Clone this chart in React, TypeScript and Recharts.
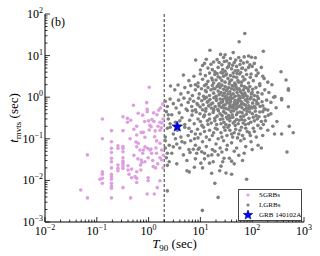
import React from 'react';
import { ScatterChart, Scatter, XAxis, YAxis, ReferenceLine } from 'recharts';

// [T90 (s), t_mvts (s)]
const sgrbs: number[][] = [
  [0.049, 0.0059], [0.066, 0.041], [0.066, 0.0038],
  [0.128, 0.3], [0.128, 0.1], [0.128, 0.016], [0.128, 0.014], [0.128, 0.0112], [0.128, 0.0085], [0.115, 0.0107],
  [0.192, 0.157], [0.192, 0.085], [0.192, 0.059], [0.192, 0.047], [0.192, 0.034], [0.192, 0.028], [0.192, 0.02],
  [0.192, 0.014], [0.192, 0.0123], [0.192, 0.0107], [0.192, 0.0085], [0.192, 0.0072], [0.192, 0.0065], [0.192, 0.0038],
  [0.256, 0.068], [0.256, 0.059], [0.256, 0.0234], [0.256, 0.0195], [0.256, 0.017],
  [0.32, 0.34], [0.32, 0.157], [0.32, 0.065], [0.32, 0.059], [0.32, 0.049], [0.32, 0.035], [0.32, 0.029],
  [0.32, 0.026], [0.32, 0.0225], [0.32, 0.0195], [0.32, 0.0067],
  [0.39, 0.31], [0.39, 0.25], [0.45, 0.28], [0.51, 0.64], [0.63, 0.41], [0.77, 0.37], [0.92, 0.74], [0.94, 0.51],
  [0.94, 0.45], [1.03, 1.73], [1.88, 0.69], [1.57, 0.49], [0.84, 0.26], [1.0, 0.27], [1.16, 0.29], [1.27, 0.26],
  [1.66, 0.25], [1.81, 0.24], [1.52, 0.2], [0.52, 0.17], [0.59, 0.2], [0.72, 0.143], [0.79, 0.143], [1.06, 0.21],
  [1.12, 0.195], [1.03, 0.163], [1.34, 0.155], [1.66, 0.16], [1.76, 0.185], [0.59, 0.123], [0.44, 0.1],
  [0.57, 0.084], [0.63, 0.078], [0.85, 0.109], [1.31, 0.112], [1.43, 0.089], [1.66, 0.078], [0.79, 0.054],
  [0.96, 0.059], [1.11, 0.057], [1.39, 0.06], [1.79, 0.054],
  [0.4, 0.0225], [0.4, 0.0178], [0.47, 0.0187], [0.42, 0.014], [0.47, 0.0116], [0.55, 0.0123], [0.59, 0.0162],
  [0.59, 0.0112], [0.59, 0.0089], [0.71, 0.0178], [0.7, 0.0234], [0.74, 0.027], [0.98, 0.0116], [0.98, 0.0098],
  [0.94, 0.0047], [1.29, 0.0047], [0.45, 0.0038], [1.47, 0.0067], [1.23, 0.0214], [1.37, 0.02], [1.66, 0.0098],
  [0.59, 0.064], [0.68, 0.054], [0.77, 0.045], [0.85, 0.064], [1.06, 0.054], [1.14, 0.045], [0.98, 0.035],
  [1.42, 0.045], [1.66, 0.035], [1.79, 0.031], [1.95, 0.04], [0.72, 0.031], [0.85, 0.028], [0.52, 0.04],
  [0.62, 0.033], [1.2, 0.03], [1.5, 0.025], [1.9, 0.02], [1.7, 0.55], [1.45, 0.38], [1.9, 0.3], [1.25, 0.42],
];

const lgrbs: number[][] = [
  // t > 4 s
  [72, 34], [56, 21.6], [15.3, 13.4], [164, 12.7], [24.5, 10.7], [43, 11.8], [85, 9.8], [70, 9.3], [97, 9.1],
  [115, 8.9], [30, 10.5], [8.1, 7.8], [32, 7.4], [12, 6.5], [18, 7], [21, 8], [26, 6], [38, 8.5], [45, 6.8],
  [50, 5.5], [60, 7.5], [65, 5], [90, 6], [120, 4.5], [150, 5.2], [360, 4.1], [28, 9], [35, 5.5], [40, 4.8],
  [55, 9], [14, 5], [17, 4.6], [22, 5.2], [30, 4.2], [75, 4.5], [100, 5.5], [10, 4.5], [13, 8.2], [47, 4.3], [80, 7],
  [11, 5.8], [16, 6.2], [19, 4.1], [23, 6.8], [27, 4.6], [29, 7.2], [33, 5.1], [36, 6.4], [42, 5.9], [48, 7.8],
  [53, 4.4], [58, 6.1], [63, 4.9], [68, 6.6], [85, 5.2], [110, 6.5],
  // 2 - 4 s
  [4.7, 3.4], [6, 2.5], [7.5, 3.2], [9, 2.2], [10, 3.6], [11, 2.7], [12.5, 3.3], [14, 2.4], [15, 3.8], [16.5, 2.9],
  [18, 2.2], [19, 3.5], [20, 2.6], [22, 3.1], [23, 2.1], [25, 3.9], [26, 2.5], [28, 3.2], [30, 2.3], [32, 3.6],
  [34, 2.8], [36, 2.1], [38, 3.3], [40, 2.6], [43, 3.8], [46, 2.2], [50, 3], [53, 2.5], [57, 3.6], [62, 2.3],
  [66, 3.1], [72, 2.7], [78, 3.5], [85, 2.2], [92, 3], [105, 2.5], [120, 3.3], [140, 2.1], [170, 2.8], [200, 2.3],
  [240, 2.0], [450, 2.6], [8, 2.0], [13, 2.05], [27, 3.8], [60, 3.9], [48, 2.0],
  [130, 3.8], [24, 2.9], [31, 3.4], [37, 2.4], [44, 3.1], [51, 3.7], [55, 2.3], [69, 2.6], [95, 3.6], [160, 3.2],
  [21, 3.7], [17, 2.6],
  // 1 - 2 s
  [2.65, 1.86], [3.7, 1.96], [3.2, 1.5], [4.2, 1.2], [5, 1.7], [5.8, 1.3], [6.5, 1.9], [7, 1.1], [8, 1.5], [9, 1.8],
  [9.5, 1.2], [10.5, 1.6], [11.5, 1.05], [12, 1.9], [13, 1.35], [14, 1.7], [15, 1.1], [16, 1.5], [17, 1.9],
  [18, 1.25], [19, 1.6], [20, 1.05], [21, 1.8], [22, 1.4], [23, 1.15], [24, 1.7], [25, 1.3], [26, 1.95], [27, 1.1],
  [28, 1.55], [29, 1.25], [30, 1.8], [31, 1.05], [32, 1.45], [34, 1.2], [35, 1.7], [37, 1.35], [38, 1.0], [40, 1.6],
  [41, 1.9], [43, 1.2], [45, 1.5], [47, 1.05], [49, 1.75], [51, 1.3], [54, 1.1], [56, 1.6], [59, 1.4], [62, 1.9],
  [65, 1.15], [68, 1.5], [72, 1.25], [76, 1.7], [80, 1.05], [85, 1.4], [90, 1.8], [96, 1.2], [102, 1.55],
  [110, 1.1], [118, 1.7], [128, 1.3], [140, 1.9], [155, 1.2], [175, 1.5], [210, 1.3], [260, 1.0], [500, 1.6],
  [500, 1.47], [33, 1.6], [39, 1.15], [44, 1.85], [52, 1.55], [58, 1.02], [61, 1.3], [70, 1.8], [74, 1.1],
  [83, 1.6], [100, 1.3], [125, 1.05], [22, 1.95], [18, 1.6], [12.5, 1.45],
  // 0.5 - 1 s
  [2.1, 0.8], [2.3, 0.6], [2.6, 0.9], [3, 0.7], [3.4, 0.55], [3.8, 0.85], [4.3, 0.65], [4.8, 0.95], [5.3, 0.52],
  [5.8, 0.75], [6.3, 0.9], [6.8, 0.6], [7.4, 0.8], [8, 0.5], [8.6, 0.7], [9.2, 0.95], [9.9, 0.58], [10.6, 0.82],
  [11.3, 0.66], [12, 0.92], [12.8, 0.53], [13.6, 0.76], [14.4, 0.62], [15.3, 0.88], [16.2, 0.55], [17.2, 0.72],
  [18.2, 0.97], [19.3, 0.6], [20.4, 0.83], [21.6, 0.51], [22.8, 0.7], [24, 0.9], [25.4, 0.57], [26.8, 0.78],
  [28.2, 0.64], [29.8, 0.94], [31.4, 0.53], [33, 0.74], [34.8, 0.86], [36.6, 0.6], [38.5, 0.79], [40.5, 0.55],
  [42.6, 0.96], [44.8, 0.68], [47, 0.84], [49.4, 0.52], [52, 0.73], [54.6, 0.9], [57.4, 0.61], [60.4, 0.8],
  [63.5, 0.56], [66.8, 0.98], [70.2, 0.67], [74, 0.85], [78, 0.54], [82, 0.76], [86, 0.62], [91, 0.91], [96, 0.58],
  [102, 0.72], [108, 0.87], [115, 0.55], [123, 0.69], [132, 0.93], [142, 0.6], [155, 0.78], [170, 0.52],
  [190, 0.85], [290, 0.56], [370, 0.86], [500, 0.59], [370, 0.93], [275, 1.03],
  [9, 0.65], [11, 0.5], [13, 0.99], [16, 0.68], [18, 0.52], [20, 0.95], [23, 0.62], [27, 0.88], [30, 0.66],
  [35, 0.51], [39, 0.92], [45, 0.57], [50, 0.65], [58, 0.94], [65, 0.71], [75, 0.64], [88, 0.53], [110, 0.6],
  [14, 0.8], [25, 0.74], [33, 0.97], [42, 0.63], [55, 0.82], [70, 0.5], [95, 0.99], [120, 0.81],
  [28, 0.55], [32, 0.82], [37, 0.7], [41, 0.58], [46, 0.75], [53, 0.58], [62, 0.68], [80, 0.9], [100, 0.55],
  [130, 0.7], [160, 0.62], [230, 0.75],
  // 0.2 - 0.5 s
  [2.2, 0.45], [2.4, 0.3], [2.8, 0.38], [3.3, 0.25], [3.9, 0.42], [4.4, 0.32], [5, 0.22], [5.6, 0.48], [6.2, 0.28],
  [6.9, 0.37], [7.6, 0.23], [8.3, 0.44], [9, 0.3], [9.8, 0.4], [10.7, 0.21], [11.6, 0.34], [12.6, 0.46],
  [13.7, 0.27], [14.9, 0.39], [16.2, 0.24], [17.6, 0.43], [19, 0.31], [20.6, 0.22], [22.3, 0.47], [24.2, 0.29],
  [26.2, 0.36], [28.4, 0.25], [30.8, 0.41], [33.3, 0.3], [36, 0.21], [39, 0.45], [42.3, 0.33], [45.8, 0.26],
  [49.6, 0.38], [53.7, 0.23], [58.2, 0.44], [63, 0.29], [68.2, 0.35], [73.8, 0.22], [80, 0.46], [86.6, 0.31],
  [93.8, 0.25], [101, 0.4], [110, 0.27], [119, 0.36], [129, 0.21], [140, 0.44], [164, 0.22], [177, 0.34],
  [160, 0.45], [177, 0.51], [205, 0.37], [200, 0.49], [250, 0.2], [300, 0.26], [520, 0.2],
  [4, 0.27], [7, 0.47], [10, 0.26], [12, 0.37], [15, 0.3], [18, 0.48], [21, 0.35], [25, 0.23], [28, 0.45],
  [32, 0.33], [37, 0.27], [41, 0.38], [47, 0.21], [52, 0.42], [60, 0.34], [67, 0.24], [77, 0.39], [90, 0.44],
  [105, 0.33], [125, 0.3], [150, 0.26], [24, 0.4], [35, 0.36], [44, 0.47], [56, 0.28], [2.6, 0.23], [2.4, 0.38],
  [27, 0.3], [31, 0.22], [38, 0.32], [43, 0.24], [50, 0.29], [64, 0.42], [72, 0.28], [85, 0.23], [115, 0.46],
  [135, 0.34], [180, 0.27], [230, 0.4], [19, 0.27], [14, 0.22],
  // 0.1 - 0.2 s
  [2.3, 0.18], [2.6, 0.19], [3, 0.13], [3.6, 0.16], [4.2, 0.11], [5, 0.19], [5.8, 0.12], [6.7, 0.15], [7.7, 0.1],
  [8.8, 0.17], [10, 0.13], [11.5, 0.19], [13, 0.11], [15, 0.16], [17, 0.12], [19.5, 0.18], [22, 0.1], [25, 0.14],
  [28.5, 0.19], [32.5, 0.12], [37, 0.16], [42, 0.11], [48, 0.17], [55, 0.13], [62, 0.19], [70, 0.1], [80, 0.15],
  [92, 0.12], [105, 0.18], [120, 0.11], [146, 0.18], [270, 0.13], [370, 0.13], [620, 0.14], [2.1, 0.11],
  [9, 0.105], [18, 0.14], [30, 0.16], [45, 0.14], [65, 0.12], [3.3, 0.1],
  [12, 0.15], [21, 0.17], [26, 0.11], [34, 0.19], [40, 0.13], [52, 0.105], [58, 0.16], [75, 0.18], [88, 0.14],
  [110, 0.15], [160, 0.12], [200, 0.16], [8, 0.13], [6, 0.18],
  // 0.04 - 0.1 s
  [2.1, 0.09], [2.5, 0.07], [3.5, 0.075], [4.4, 0.085], [3, 0.064], [4, 0.06], [5, 0.08], [6, 0.055], [6.5, 0.09],
  [8, 0.07], [9.5, 0.06], [11, 0.085], [13, 0.065], [15, 0.095], [17, 0.055], [20, 0.075], [24, 0.06], [28, 0.09],
  [33, 0.07], [40, 0.08], [50, 0.06], [60, 0.09], [75, 0.065], [95, 0.085], [130, 0.07], [470, 0.048],
  [7.3, 0.056], [9.1, 0.056], [10.6, 0.049], [6.3, 0.047], [8.5, 0.045], [2.8, 0.045], [4.7, 0.041], [2.1, 0.06],
  [12, 0.045], [19, 0.05], [26, 0.048], [32, 0.055], [45, 0.05], [55, 0.04], [70, 0.045], [100, 0.055], [150, 0.06],
  // below 0.04 s
  [14.1, 0.039], [16.6, 0.041], [22, 0.041], [28.5, 0.034], [36.3, 0.034], [40, 0.029], [2.3, 0.045],
  [2.3, 0.023], [2.3, 0.0056], [7.65, 0.0207], [5.5, 0.017], [6.1, 0.016], [16.5, 0.0148], [19, 0.0085],
  [22, 0.0039], [10.9, 0.0019], [23.6, 0.017], [31.2, 0.015], [40, 0.014], [15, 0.026], [17.7, 0.028],
  [10.2, 0.026], [78, 0.0107], [2.2, 0.035], [2.5, 0.028], [12, 0.033], [25, 0.022],
  [5.5, 0.03], [8, 0.033], [27, 0.028], [45, 0.025], [65, 0.03], [3.5, 0.025], [11, 0.02],
];

const grb140102a: number[][] = [[3.58, 0.195]];

const xMajor = [0.01, 0.1, 1, 10, 100, 1000];
const yMajor = [0.001, 0.01, 0.1, 1, 10, 100];
const withMinor = (majors: number[]) => {
  const out: number[] = [];
  majors.forEach((m, i) => {
    out.push(m);
    if (i < majors.length - 1) for (let k = 2; k < 10; k++) out.push(m * k);
  });
  return out;
};
const xTicks = withMinor(xMajor);
const yTicks = withMinor(yMajor);

const toPts = (arr: number[][]) => arr.map(([x, y]) => ({ x, y }));

const FONT = '"Liberation Serif", "DejaVu Serif", serif';

const expOf = (v: number) => {
  const e = Math.round(Math.log10(v));
  return { e, major: Math.abs(Math.log10(v) - e) < 1e-6 };
};
const supText = (e: number) => (e < 0 ? '\u2212' + Math.abs(e) : String(e));

const XTick = (props: any) => {
  const { x, y, payload, side } = props;
  const { e, major } = expOf(payload.value);
  const len = major ? 5 : 2.5;
  const dir = side === 'bottom' ? -1 : 1;
  return (
    <g>
      <line x1={x} y1={y} x2={x} y2={y + dir * len} stroke="#000" strokeWidth={0.8} />
      {major && side === 'bottom' && (
        <text x={x} y={y + 13} textAnchor="middle" fontFamily={FONT} fontSize={12} fill="#000">
          10<tspan dy={-5} fontSize={8}>{supText(e)}</tspan>
        </text>
      )}
    </g>
  );
};

const YTick = (props: any) => {
  const { x, y, payload, side } = props;
  const { e, major } = expOf(payload.value);
  const len = major ? 5 : 2.5;
  const dir = side === 'left' ? 1 : -1;
  return (
    <g>
      <line x1={x} y1={y} x2={x + dir * len} y2={y} stroke="#000" strokeWidth={0.8} />
      {major && side === 'left' && (
        <text x={x - 2} y={y + 4} textAnchor="end" fontFamily={FONT} fontSize={12} fill="#000">
          10<tspan dy={-5} fontSize={8}>{supText(e)}</tspan>
        </text>
      )}
    </g>
  );
};

const Dot = (color: string) => (p: any) => <circle cx={p.cx} cy={p.cy} r={1.8} fill={color} />;

const starPoints = (cx: number, cy: number, R: number, r: number) => {
  const pts: string[] = [];
  for (let i = 0; i < 10; i++) {
    const a = -Math.PI / 2 + (i * Math.PI) / 5;
    const rad = i % 2 === 0 ? R : r;
    pts.push(`${cx + rad * Math.cos(a)},${cy + rad * Math.sin(a)}`);
  }
  return pts.join(' ');
};
const StarShape = (p: any) => (
  <polygon points={starPoints(p.cx, p.cy, 5.5, 2.3)} fill="#0000ff" stroke="#000080" strokeWidth={0.6} />
);

const PINK = '#dd9fdd';
const GRAY = '#808080';

export default function App() {
  return (
    <div style={{ position: 'absolute', left: 0, top: 0, width: 320, height: 256, background: '#fff' }}>
      <ScatterChart width={320} height={256} margin={{ top: 14, right: 16, bottom: 0, left: 0 }}>
        <XAxis xAxisId="b" dataKey="x" type="number" scale="log" domain={[0.01, 1000]} allowDataOverflow
          ticks={xTicks} interval={0} tickLine={false} tickSize={0} tickMargin={0} height={34}
          axisLine={{ stroke: '#000', strokeWidth: 1 }} tick={(p: any) => <XTick {...p} side="bottom" />} />
        <XAxis xAxisId="t" orientation="top" dataKey="x" type="number" scale="log" domain={[0.01, 1000]} allowDataOverflow
          ticks={xTicks} interval={0} tickLine={false} tickSize={0} tickMargin={0} height={0}
          axisLine={{ stroke: '#000', strokeWidth: 1 }} tick={(p: any) => <XTick {...p} side="top" />} />
        <YAxis yAxisId="l" dataKey="y" type="number" scale="log" domain={[0.001, 100]} allowDataOverflow
          ticks={yTicks} interval={0} tickLine={false} tickSize={0} tickMargin={0} width={45}
          axisLine={{ stroke: '#000', strokeWidth: 1 }} tick={(p: any) => <YTick {...p} side="left" />} />
        <YAxis yAxisId="r" orientation="right" dataKey="y" type="number" scale="log" domain={[0.001, 100]} allowDataOverflow
          ticks={yTicks} interval={0} tickLine={false} tickSize={0} tickMargin={0} width={0}
          axisLine={{ stroke: '#000', strokeWidth: 1 }} tick={(p: any) => <YTick {...p} side="right" />} />
        <ReferenceLine xAxisId="b" yAxisId="l" x={2} stroke="#000" strokeWidth={0.8} strokeDasharray="3 2" />
        <Scatter xAxisId="b" yAxisId="l" name="SGRBs" data={toPts(sgrbs)} shape={Dot(PINK)} isAnimationActive={false} />
        <Scatter xAxisId="b" yAxisId="l" name="LGRBs" data={toPts(lgrbs)} shape={Dot(GRAY)} isAnimationActive={false} />
        <Scatter xAxisId="b" yAxisId="l" name="GRB 140102A" data={toPts(grb140102a)} shape={StarShape} isAnimationActive={false} />
      </ScatterChart>

      <div style={{ position: 'absolute', left: 51, top: 15, fontFamily: FONT, fontSize: 12, color: '#000' }}>(b)</div>

      <div style={{ position: 'absolute', left: 0, width: 320, top: 236, paddingLeft: 45, boxSizing: 'border-box', textAlign: 'center', fontFamily: FONT, fontSize: 13, color: '#000' }}>
        <div style={{ width: 259, textAlign: 'center' }}>
          <span style={{ fontStyle: 'italic' }}>T</span>
          <span style={{ fontSize: 9, position: 'relative', top: 3 }}>90</span> (sec)
        </div>
      </div>

      <div style={{ position: 'absolute', left: 14, top: 118, width: 0, height: 0 }}>
        <div style={{ position: 'absolute', transform: 'translate(-50%, -50%) rotate(-90deg)', whiteSpace: 'nowrap', fontFamily: FONT, fontSize: 13, color: '#000' }}>
          <span style={{ fontStyle: 'italic' }}>t</span>
          <span style={{ fontSize: 9, position: 'relative', top: 3 }}>mvts</span> (sec)
        </div>
      </div>

      <div style={{ position: 'absolute', left: 238, top: 189, width: 62, height: 30, border: '1px solid #444', background: '#fff', fontFamily: FONT, fontSize: 7, color: '#000', whiteSpace: 'nowrap' }}>
        <svg width={62} height={30} style={{ position: 'absolute', left: 0, top: 0 }}>
          <circle cx={9} cy={5} r={1.6} fill={PINK} />
          <circle cx={9} cy={15} r={1.6} fill={GRAY} />
          <polygon points={starPoints(9, 25, 5, 2.1)} fill="#0000ff" stroke="#000080" strokeWidth={0.6} />
        </svg>
        <div style={{ position: 'absolute', left: 20, top: 1, lineHeight: '8px' }}>SGRBs</div>
        <div style={{ position: 'absolute', left: 20, top: 11, lineHeight: '8px' }}>LGRBs</div>
        <div style={{ position: 'absolute', left: 20, top: 21, lineHeight: '8px' }}>GRB 140102A</div>
      </div>
    </div>
  );
}
